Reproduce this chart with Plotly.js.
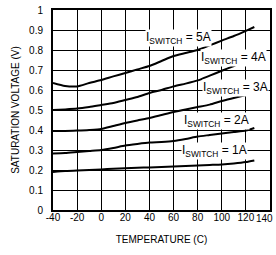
<!DOCTYPE html>
<html>
<head>
<meta charset="utf-8">
<script src="https://cdn.plot.ly/plotly-3.0.1.min.js"></script>
<style>html,body{margin:0;padding:0;background:#fff;}#chart{width:276px;height:255px;}</style>
</head>
<body>
<div id="chart"></div>
<script>
const temps = [-40, -30, -20, -10, 0, 10, 20, 30, 40, 50, 60, 70, 80, 90, 100, 110, 120, 127];
const v5A = [0.635, 0.62, 0.618, 0.635, 0.65, 0.668, 0.685, 0.703, 0.72, 0.745, 0.77, 0.785, 0.80, 0.823, 0.847, 0.87, 0.896, 0.915];
const v4A = [0.50, 0.503, 0.507, 0.515, 0.525, 0.535, 0.55, 0.565, 0.585, 0.60, 0.618, 0.632, 0.648, 0.672, 0.696, 0.72, 0.745, 0.757];
const v3A = [0.395, 0.395, 0.397, 0.40, 0.405, 0.42, 0.435, 0.448, 0.46, 0.475, 0.49, 0.503, 0.515, 0.527, 0.545, 0.56, 0.575, 0.585];
const v2A = [0.283, 0.285, 0.29, 0.295, 0.30, 0.31, 0.322, 0.33, 0.337, 0.34, 0.345, 0.355, 0.367, 0.375, 0.383, 0.39, 0.397, 0.41];
const v1A = [0.19, 0.195, 0.198, 0.20, 0.203, 0.206, 0.209, 0.211, 0.213, 0.215, 0.217, 0.22, 0.222, 0.225, 0.228, 0.233, 0.24, 0.248];
const seriesNames = ['5A', '4A', '3A', '2A', '1A'];
const seriesVals = [v5A, v4A, v3A, v2A, v1A];
const labelX = [64, 110, 111, 96, 94];
const labelY = [0.86, 0.76, 0.61, 0.445, 0.295];
const xTicks = [-40, -20, 0, 20, 40, 60, 80, 100, 120, 140];
const xTickText = ['-40', '-20', '0', '20', '40', '60', '80', '100', '120', ''];
const lastXTick = '140';
const yTicks = [0, 0.1, 0.2, 0.3, 0.4, 0.5, 0.6, 0.7, 0.8, 0.9, 1];
const yTickText = ['0', '0.1', '0.2', '0.3', '0.4', '0.5', '0.6', '0.7', '0.8', '0.9', '1'];

const fnt = {family: 'Liberation Sans, Arial, sans-serif', size: 10, color: '#000'};

const traces = seriesVals.map((v, i) => ({
  x: temps, y: v, type: 'scatter', mode: 'lines',
  line: {color: '#000', width: 2, shape: 'spline', smoothing: 0.6},
  name: seriesNames[i], showlegend: false, hoverinfo: 'skip'
}));

const annotations = seriesNames.map((n, i) => ({
  x: labelX[i], y: labelY[i], xref: 'x', yref: 'y',
  text: 'I<sub>SWITCH</sub> = ' + n, showarrow: false,
  font: {family: 'Liberation Sans, Arial, sans-serif', size: 12, color: '#000'},
  bgcolor: '#fff', borderpad: 0, xanchor: 'center', yanchor: 'middle'
}));
annotations.push({
  x: 1, y: 0, xref: 'paper', yref: 'paper',
  text: lastXTick, showarrow: false, font: fnt,
  xanchor: 'right', yanchor: 'middle', xshift: 5, yshift: -8
});

const layout = {
  width: 276, height: 255,
  margin: {l: 53, r: 6, t: 10, b: 45},
  paper_bgcolor: '#fff', plot_bgcolor: '#fff',
  showlegend: false,
  font: fnt,
  xaxis: {
    range: [-40, 140], tickvals: xTicks, ticktext: xTickText,
    showgrid: true, gridcolor: '#000', gridwidth: 1,
    showline: true, linecolor: '#000', linewidth: 2, mirror: true,
    zeroline: false, ticks: '', ticklabelstandoff: -3,
    tickfont: fnt, automargin: false,
    title: {text: 'TEMPERATURE (C)', font: fnt, standoff: 14}
  },
  yaxis: {
    range: [0, 1], tickvals: yTicks, ticktext: yTickText,
    showgrid: true, gridcolor: '#000', gridwidth: 1,
    showline: true, linecolor: '#000', linewidth: 2, mirror: true,
    zeroline: false, ticks: '', ticklabelstandoff: 6,
    tickfont: fnt, automargin: false,
    title: {text: 'SATURATION VOLTAGE (V)', font: fnt, standoff: 8}
  },
  annotations: annotations
};

Plotly.newPlot('chart', traces, layout, {staticPlot: true, displayModeBar: false});
</script>
</body>
</html>
